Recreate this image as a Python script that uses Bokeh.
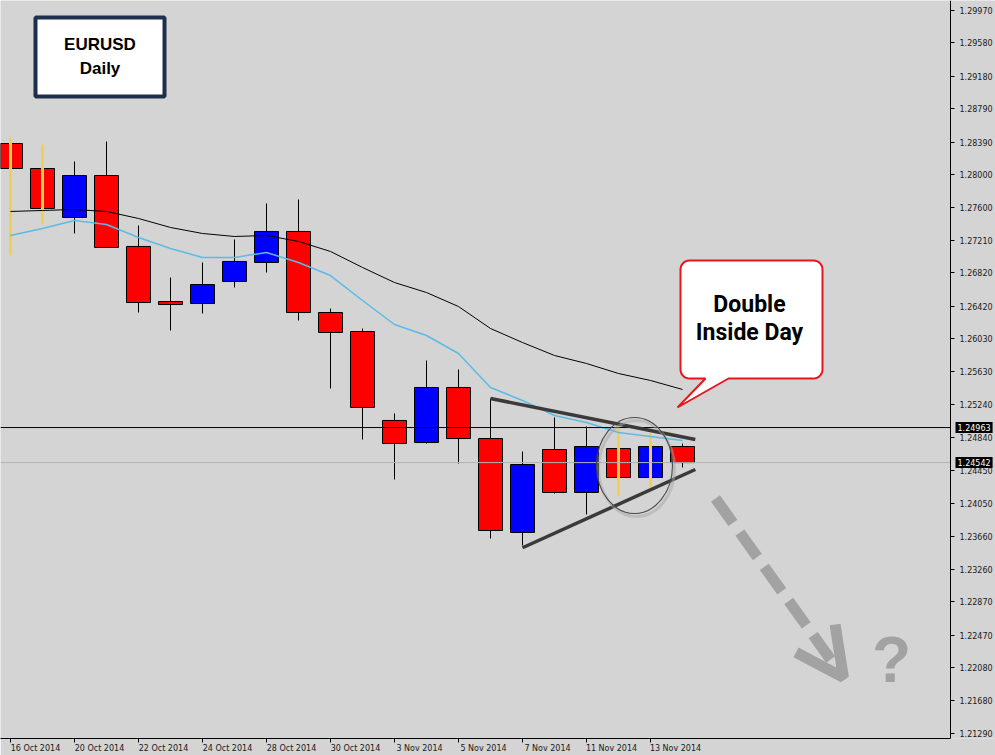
import numpy as np
from bokeh.plotting import figure
from bokeh.models import (Range1d, LinearAxis, FixedTicker, PrintfTickFormatter,
                          Label, Arrow, OpenHead)
from bokeh.embed import file_html
from bokeh.resources import INLINE

# ---- EURUSD daily candles, 16 Oct - 14 Nov 2014 ----
dates = ["16 Oct 2014", "17 Oct 2014", "20 Oct 2014", "21 Oct 2014", "22 Oct 2014",
         "23 Oct 2014", "24 Oct 2014", "27 Oct 2014", "28 Oct 2014", "29 Oct 2014",
         "30 Oct 2014", "31 Oct 2014", "3 Nov 2014", "4 Nov 2014", "5 Nov 2014",
         "6 Nov 2014", "7 Nov 2014", "10 Nov 2014", "11 Nov 2014", "12 Nov 2014",
         "13 Nov 2014", "14 Nov 2014"]
opens = [1.28373, 1.28073, 1.27485, 1.27989, 1.27137, 1.26476, 1.26452, 1.26716,
         1.26945, 1.27317, 1.26344, 1.26116, 1.25048, 1.24783, 1.25444, 1.24831,
         1.23703, 1.24699, 1.24183, 1.24711, 1.24363, 1.24735]
highs = [1.28445, 1.28361, 1.28157, 1.28397, 1.27389, 1.26764, 1.26945, 1.27221,
         1.27653, 1.27701, 1.26392, 1.26152, 1.25132, 1.25768, 1.25660, 1.25312,
         1.24675, 1.25084, 1.24976, 1.24960, 1.24904, 1.24771]
lows = [1.27029, 1.27401, 1.27293, 1.27120, 1.26344, 1.26128, 1.26332, 1.26644,
        1.26824, 1.26248, 1.25432, 1.24819, 1.24339, 1.24771, 1.24531, 1.23631,
        1.23547, 1.24171, 1.23919, 1.24135, 1.24243, 1.24483]
closes = [1.28073, 1.27593, 1.27989, 1.27125, 1.26464, 1.26440, 1.26680, 1.26957,
          1.27317, 1.26344, 1.26104, 1.25204, 1.24771, 1.25444, 1.24831, 1.23727,
          1.24519, 1.24183, 1.24735, 1.24363, 1.24735, 1.24542]
# candles whose wick is highlighted
marked = [1, 1, 0, 0, 0, 0, 0, 0, 0, 0, 0, 0, 0, 0, 0, 0, 0, 0, 0, 1, 1, 0]

# moving averages
ma_fast = [1.27269, 1.27353, 1.27449, 1.27401, 1.27245, 1.27113, 1.27005, 1.27005,
           1.27065, 1.26945, 1.26788, 1.26488, 1.26200, 1.26068, 1.25852, 1.25444,
           1.25288, 1.25108, 1.25024, 1.24904, 1.24855, 1.24807]
ma_slow = [1.27557, 1.27569, 1.27581, 1.27557, 1.27473, 1.27365, 1.27293, 1.27257,
           1.27269, 1.27197, 1.27077, 1.26885, 1.26704, 1.26584, 1.26416, 1.26152,
           1.25984, 1.25828, 1.25732, 1.25612, 1.25528, 1.25420]

price_ticks = [1.29970, 1.29580, 1.29180, 1.28790, 1.28390, 1.28000, 1.27600, 1.27210,
               1.26820, 1.26420, 1.26030, 1.25630, 1.25240, 1.24840, 1.24450, 1.24050,
               1.23660, 1.23260, 1.22870, 1.22470, 1.22080, 1.21680, 1.21290]
date_tick_idx = [0, 2, 4, 6, 8, 10, 12, 14, 16, 18, 20]

level_price = 1.24963
last_price = 1.24542

# triangle trendlines (bar index, price)
upper_x = [15, 21.4]
upper_y = [1.25312, 1.24819]
lower_x = [16, 21.4]
lower_y = [1.23520, 1.24459]

# projected move
proj_x = [22.03, 26.03]
proj_y = [1.24111, 1.21962]

# ---- layout helpers: frame pixel -> data ----
BAR_PX = 32.0
PRICE_PER_PX = 0.00012006


def bx(px):
    return (px - 10) / BAR_PX


def py(px):
    return 1.29970 - (px - 10) * PRICE_PER_PX


BG = "#d4d4d4"
GRAY = "#a2a2a2"
AXIS_X = bx(950)          # price scale sits at the right edge of the bars area

p = figure(width=995, height=755,
           x_range=Range1d(bx(0), bx(995)), y_range=Range1d(py(738), py(0)),
           output_backend="svg", toolbar_location=None, tools="",
           x_axis_location=None, y_axis_location="right",
           min_border_left=0, min_border_top=0, min_border_right=0, min_border_bottom=17,
           background_fill_color=BG, border_fill_color=BG, outline_line_color=None)
p.grid.visible = False

# right price axis
ya = p.yaxis[0]
ya.fixed_location = AXIS_X
ya.ticker = FixedTicker(ticks=price_ticks)
ya.formatter = PrintfTickFormatter(format="%.5f")
ya.axis_line_color = "black"
ya.axis_line_width = 1
ya.major_tick_out = 4
ya.major_tick_in = 0
ya.minor_tick_line_color = None
ya.major_label_standoff = 5
ya.major_label_text_font = "DejaVu Sans"
ya.major_label_text_font_size = "8px"
ya.major_label_text_color = "#1a1a1a"

# bottom date axis: tick marks on the bars, labels starting at each tick
tick_axis = LinearAxis(ticker=FixedTicker(ticks=date_tick_idx), bounds=(bx(0), AXIS_X),
                       major_label_overrides={i: "" for i in date_tick_idx},
                       major_label_text_font_size="0px", major_label_standoff=0,
                       major_tick_out=4, major_tick_in=0, minor_tick_line_color=None,
                       axis_line_color="black")
LBL_SHIFT = 25 / BAR_PX
label_pos = [i + LBL_SHIFT for i in date_tick_idx]
label_axis = LinearAxis(ticker=FixedTicker(ticks=label_pos),
                        major_label_overrides={i + LBL_SHIFT: dates[i] for i in date_tick_idx},
                        major_label_text_font="DejaVu Sans", major_label_text_font_size="8px",
                        major_label_text_color="#1a1a1a", major_label_standoff=1,
                        major_tick_out=0, major_tick_in=0, major_tick_line_color=None,
                        minor_tick_line_color=None, axis_line_color=None)
p.add_layout(tick_axis, "below")
p.add_layout(label_axis, "below")

# ---- candles ----
idx = np.arange(len(opens))
o = np.array(opens); c = np.array(closes); h = np.array(highs); l = np.array(lows)
mk = np.array(marked, dtype=bool)
body_col = ["#0000ff" if cc > oo else "#ff0000" for oo, cc in zip(o, c)]

p.segment(x0=idx[~mk], y0=h[~mk], x1=idx[~mk], y1=l[~mk], line_color="black", line_width=1)
p.vbar(x=idx, width=0.75, top=np.maximum(o, c), bottom=np.minimum(o, c),
       fill_color=body_col, line_color="black", line_width=1)
p.segment(x0=idx[mk], y0=h[mk], x1=idx[mk], y1=l[mk], line_color="#f3cf4a", line_width=3)

# moving averages
p.line(idx, ma_slow, line_color="black", line_width=1)
p.line(idx, ma_fast, line_color="#5bbbe6", line_width=1.5)

# horizontal level and bid line, up to the price scale
x_left = p.x_range.start
p.segment(x0=[x_left], x1=[AXIS_X], y0=[level_price], y1=[level_price],
          line_color="black", line_width=1)
p.segment(x0=[x_left], x1=[AXIS_X], y0=[last_price], y1=[last_price],
          line_color="#b2b2b2", line_width=1)

# triangle
p.line(upper_x, upper_y, line_color="#3a3a3a", line_width=3.5)
p.line(lower_x, lower_y, line_color="#3a3a3a", line_width=3.5)

# circle around the two inside days
cx, cy = 19.5, py(465)
ew, eh = 76 / BAR_PX, 96 * PRICE_PER_PX
p.ellipse(x=[cx + 2 / BAR_PX], y=[cy - 3 * PRICE_PER_PX], width=ew, height=eh,
          fill_color=None, line_color="#a6a6a6", line_alpha=0.5, line_width=3)
p.ellipse(x=[cx], y=[cy], width=ew, height=eh, fill_color=None,
          line_color="#4a4a4a", line_width=1.1)

# projected move arrow and question mark
p.add_layout(Arrow(end=OpenHead(size=48, line_width=11, line_color=GRAY),
                   x_start=proj_x[0], y_start=proj_y[0], x_end=proj_x[1], y_end=proj_y[1],
                   line_width=11, line_color=GRAY, line_dash="30 12"))
p.add_layout(Label(x=bx(891), y=py(659), text="?", text_font="Liberation Sans",
                   text_font_style="bold", text_font_size="64px", text_color=GRAY,
                   text_align="center", text_baseline="middle"))

# title box
p.quad(left=[bx(35)], right=[bx(164)], top=[py(17)], bottom=[py(96)],
       fill_color="white", line_color="#1d2f4d", line_width=4)
for txt, ypx in (("EURUSD", 44), ("Daily", 68)):
    p.add_layout(Label(x=bx(99.5), y=py(ypx), text=txt, text_font="Liberation Sans",
                       text_font_style="bold", text_font_size="17px", text_color="black",
                       text_align="center", text_baseline="middle"))

# callout bubble
x0, y0, x1, y1, r = 680.0, 260.0, 822.0, 378.0, 9.0


def arc(cxp, cyp, a0, a1):
    a = np.radians(np.linspace(a0, a1, 8))
    return list(cxp + r * np.cos(a)), list(cyp + r * np.sin(a))


xs, ys = [], []
for seg in (arc(x1 - r, y0 + r, -90, 0), arc(x1 - r, y1 - r, 0, 90)):
    xs += seg[0]; ys += seg[1]
xs += [728, 677, 705]; ys += [y1, 407, y1]
for seg in (arc(x0 + r, y1 - r, 90, 180), arc(x0 + r, y0 + r, 180, 270)):
    xs += seg[0]; ys += seg[1]
p.patch([bx(v) for v in xs], [py(v) for v in ys], fill_color="white",
        line_color="#e4161e", line_width=2)
for txt, ypx in (("Double", 304), ("Inside Day", 332)):
    p.add_layout(Label(x=bx(749), y=py(ypx), text=txt,
                       text_font="Roboto", text_font_style="bold",
                       text_font_size="23px", text_color="black",
                       text_align="center", text_baseline="middle"))

# price tags on the scale
for val in (level_price, last_price):
    p.add_layout(Label(x=bx(955), y=val, text=f"{val:.5f}", text_font="DejaVu Sans",
                       text_font_size="8px", text_color="white", text_align="left",
                       text_baseline="middle", background_fill_color="black", padding=2))

open("out.html", "w").write(file_html(p, INLINE))
